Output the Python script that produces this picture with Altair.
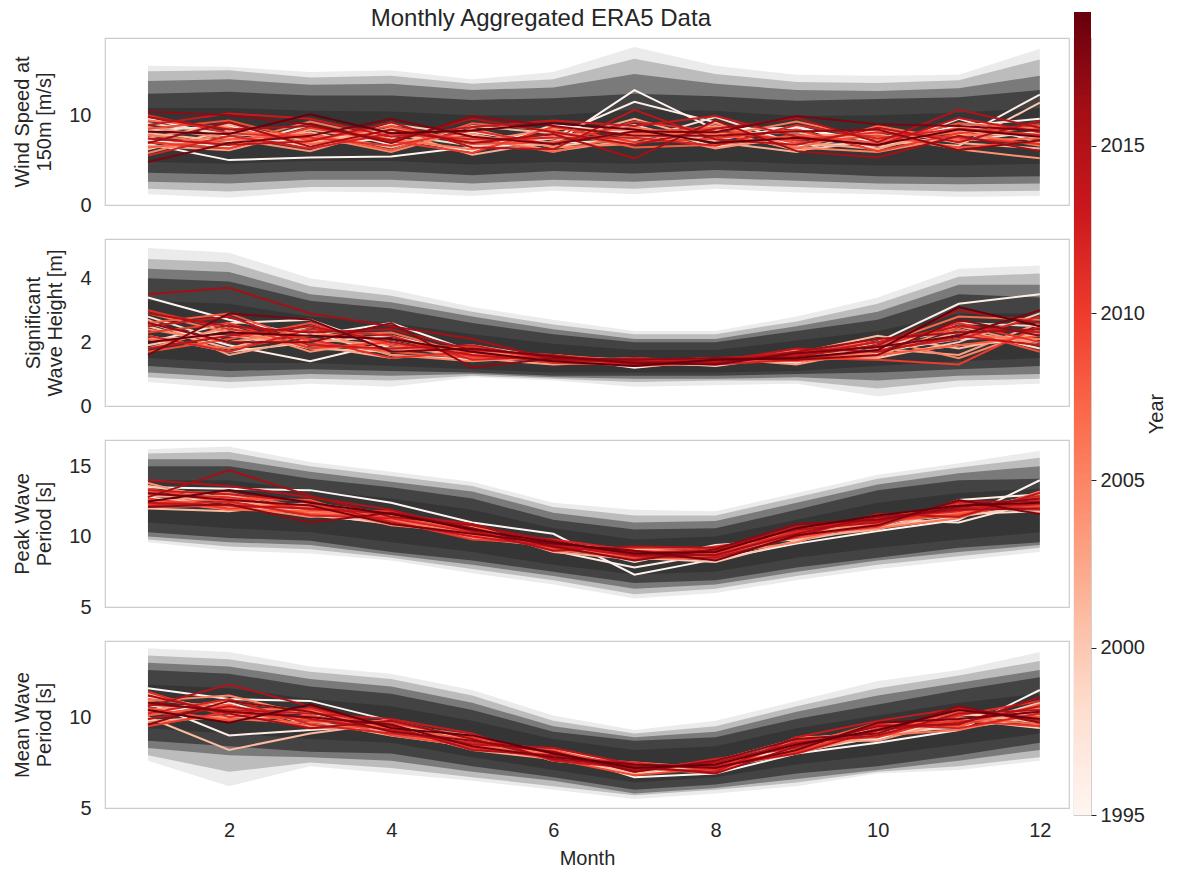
import altair as alt
import pandas as pd
import numpy as np

months = list(range(1, 13))
years = list(range(1995, 2020))

# ---------------- percentile bands (outermost first) ----------------
# Wind speed at 150 m [m/s]
wind_b1_hi = [15.5, 15.4, 14.8, 15.0, 14.0, 14.8, 17.6, 15.5, 14.5, 14.4, 14.5, 17.4]
wind_b1_lo = [1.2, 0.8, 1.5, 1.4, 1.0, 1.6, 1.2, 1.8, 1.4, 1.2, 0.9, 1.0]
wind_b2_hi = [14.9, 15.0, 14.2, 14.4, 13.5, 14.0, 16.3, 14.6, 13.7, 13.6, 13.9, 16.2]
wind_b2_lo = [1.8, 1.5, 2.0, 2.0, 1.6, 2.1, 1.8, 2.3, 2.0, 1.7, 1.5, 1.6]
wind_b3_hi = [13.8, 14.0, 13.4, 13.5, 12.8, 13.1, 14.6, 13.5, 12.8, 12.7, 13.0, 14.4]
wind_b3_lo = [2.6, 2.4, 2.8, 2.8, 2.4, 2.8, 2.6, 3.0, 2.7, 2.4, 2.3, 2.4]
wind_b4_hi = [12.4, 12.6, 12.2, 12.2, 11.7, 11.9, 12.4, 12.1, 11.6, 11.8, 12.0, 12.8]
wind_b4_lo = [3.6, 3.4, 3.8, 3.8, 3.3, 3.8, 3.5, 3.9, 3.6, 3.2, 3.1, 3.2]
wind_b5_hi = [10.8, 10.8, 10.5, 10.4, 10.0, 10.0, 10.6, 10.5, 9.9, 10.0, 10.3, 10.8]
wind_b5_lo = [4.8, 4.6, 4.9, 4.9, 4.5, 4.8, 4.6, 4.9, 4.6, 4.4, 4.4, 4.6]

# Significant wave height [m]
hs_b1_hi = [4.95, 4.8, 4.0, 3.65, 3.1, 2.7, 2.35, 2.35, 2.8, 3.4, 4.3, 4.4]
hs_b1_lo = [0.75, 0.55, 0.7, 0.6, 0.9, 0.8, 0.6, 0.65, 0.7, 0.3, 0.6, 0.7]
hs_b2_hi = [4.6, 4.5, 3.75, 3.45, 2.95, 2.55, 2.25, 2.25, 2.65, 3.2, 4.05, 4.15]
hs_b2_lo = [0.9, 0.75, 0.85, 0.8, 0.95, 0.85, 0.75, 0.8, 0.8, 0.55, 0.8, 0.85]
hs_b3_hi = [4.3, 4.2, 3.5, 3.25, 2.8, 2.4, 2.1, 2.1, 2.5, 2.95, 3.8, 3.8]
hs_b3_lo = [1.05, 0.9, 1.0, 0.95, 1.0, 0.9, 0.85, 0.85, 0.9, 0.8, 0.95, 1.0]
hs_b4_hi = [4.0, 3.9, 3.3, 3.05, 2.6, 2.25, 2.0, 2.0, 2.35, 2.7, 3.5, 3.4]
hs_b4_lo = [1.25, 1.1, 1.15, 1.1, 1.05, 0.95, 0.95, 0.95, 1.0, 1.05, 1.15, 1.25]
hs_b5_hi = [3.3, 3.2, 2.8, 2.6, 2.25, 1.95, 1.75, 1.75, 2.05, 2.35, 2.9, 2.9]
hs_b5_lo = [1.5, 1.35, 1.35, 1.25, 1.15, 1.05, 1.05, 1.05, 1.1, 1.25, 1.4, 1.5]

# Peak wave period [s]
tp_b1_hi = [16.2, 16.4, 15.3, 14.6, 13.9, 12.4, 11.9, 11.8, 13.1, 14.4, 15.2, 16.1]
tp_b1_lo = [9.6, 9.0, 8.8, 8.3, 7.4, 6.6, 5.6, 6.0, 6.9, 7.7, 8.3, 8.9]
tp_b2_hi = [15.9, 16.0, 15.0, 14.3, 13.6, 12.1, 11.5, 11.5, 12.8, 14.1, 14.9, 15.6]
tp_b2_lo = [9.8, 9.3, 9.1, 8.5, 7.7, 6.9, 5.9, 6.3, 7.2, 8.0, 8.6, 9.2]
tp_b3_hi = [15.5, 15.5, 14.6, 13.9, 13.2, 11.7, 11.0, 11.1, 12.4, 13.7, 14.5, 15.0]
tp_b3_lo = [10.0, 9.6, 9.4, 8.7, 8.0, 7.2, 6.3, 6.6, 7.5, 8.3, 8.9, 9.4]
tp_b4_hi = [15.0, 15.0, 14.1, 13.5, 12.7, 11.2, 10.5, 10.6, 11.9, 13.3, 14.0, 14.1]
tp_b4_lo = [10.3, 9.9, 9.7, 8.9, 8.3, 7.5, 6.7, 6.9, 7.8, 8.5, 9.2, 9.6]
tp_b5_hi = [14.0, 14.0, 13.3, 12.7, 11.9, 10.6, 9.8, 10.0, 11.2, 12.4, 13.1, 13.4]
tp_b5_lo = [11.0, 10.6, 10.3, 9.6, 8.9, 8.0, 7.3, 7.5, 8.5, 9.2, 9.8, 10.3]

# Mean wave period [s]
tm_b1_hi = [13.8, 13.6, 12.8, 12.4, 11.5, 10.1, 9.3, 9.8, 10.9, 12.0, 12.6, 13.6]
tm_b1_lo = [7.6, 6.2, 7.3, 6.9, 6.5, 6.0, 5.5, 5.8, 6.2, 6.9, 7.1, 7.6]
tm_b2_hi = [13.4, 13.2, 12.5, 12.1, 11.2, 9.8, 9.1, 9.5, 10.6, 11.6, 12.3, 13.1]
tm_b2_lo = [7.9, 7.0, 7.5, 7.2, 6.7, 6.2, 5.7, 6.0, 6.4, 7.0, 7.3, 7.8]
tm_b3_hi = [13.0, 12.8, 12.1, 11.7, 10.8, 9.5, 8.9, 9.2, 10.3, 11.2, 11.9, 12.6]
tm_b3_lo = [8.3, 7.9, 7.8, 7.6, 7.0, 6.5, 5.8, 6.1, 6.6, 7.1, 7.6, 8.2]
tm_b4_hi = [12.6, 12.4, 11.7, 11.3, 10.4, 9.2, 8.7, 8.9, 9.9, 10.7, 11.5, 12.2]
tm_b4_lo = [8.7, 8.4, 8.1, 8.0, 7.3, 6.7, 6.0, 6.3, 6.9, 7.3, 7.9, 8.6]
tm_b5_hi = [11.8, 11.6, 11.0, 10.6, 9.8, 8.8, 8.2, 8.4, 9.4, 10.1, 10.8, 11.3]
tm_b5_lo = [9.4, 9.1, 8.8, 8.6, 7.8, 7.1, 6.4, 6.7, 7.4, 7.9, 8.5, 9.1]

band_opacity = [0.08, 0.2, 0.35, 0.45, 0.2]

# ---------------- yearly monthly means (1995 .. 2019) ----------------
wind_years = [
    [6.8, 5.0, 5.3, 5.4, 6.5, 6.8, 12.8, 8.4, 8.6, 7.0, 8.8, 9.6],
    [9.6, 7.6, 6.9, 8.5, 7.2, 7.6, 11.5, 9.2, 6.6, 6.9, 7.4, 12.3],
    [8.3, 8.8, 6.6, 7.5, 6.0, 8.9, 8.0, 7.2, 8.8, 6.2, 9.6, 6.9],
    [7.2, 6.5, 8.9, 6.7, 8.1, 6.9, 7.2, 9.8, 6.8, 8.3, 7.1, 8.2],
    [9.1, 7.9, 7.4, 7.9, 6.6, 7.4, 8.9, 6.5, 7.4, 7.6, 8.3, 7.5],
    [6.2, 8.3, 6.4, 9.0, 7.8, 6.5, 7.6, 8.3, 6.1, 7.1, 6.6, 11.4],
    [8.0, 7.1, 8.1, 6.4, 8.8, 8.0, 6.9, 7.9, 8.1, 6.5, 7.8, 7.9],
    [7.5, 9.0, 7.0, 8.2, 5.6, 7.1, 9.6, 7.0, 5.9, 8.5, 6.9, 6.3],
    [6.6, 6.1, 8.4, 7.0, 7.9, 6.0, 7.3, 8.8, 7.0, 6.2, 8.7, 7.7],
    [8.7, 7.4, 6.0, 8.6, 7.0, 8.5, 8.3, 6.3, 7.7, 7.9, 6.2, 5.2],
    [5.8, 8.1, 7.7, 5.9, 8.5, 6.4, 6.8, 9.1, 6.4, 5.9, 7.6, 8.8],
    [7.8, 6.8, 9.3, 7.3, 6.2, 7.7, 8.6, 7.6, 9.3, 7.3, 8.1, 6.6],
    [9.4, 8.6, 6.8, 7.8, 7.5, 5.9, 7.9, 8.0, 6.3, 8.8, 7.2, 7.4],
    [6.4, 7.3, 7.9, 6.1, 9.1, 8.3, 6.4, 6.7, 7.8, 6.9, 9.1, 8.4],
    [8.5, 9.4, 7.2, 8.8, 6.8, 7.0, 8.1, 8.6, 6.9, 7.7, 6.4, 7.1],
    [7.0, 6.3, 8.6, 7.1, 5.8, 8.7, 7.0, 7.4, 8.4, 6.0, 8.0, 9.0],
    [10.0, 8.0, 7.5, 6.6, 8.3, 6.7, 9.3, 8.2, 7.2, 8.1, 7.5, 6.8],
    [5.5, 7.7, 6.3, 8.0, 7.3, 7.5, 7.5, 6.6, 8.9, 7.4, 8.5, 7.8],
    [8.9, 10.2, 9.6, 7.6, 8.7, 9.4, 8.8, 9.9, 7.6, 6.6, 9.7, 8.1],
    [7.4, 6.7, 7.1, 9.2, 6.4, 6.2, 10.6, 7.3, 6.7, 8.6, 7.0, 9.4],
    [9.8, 8.4, 8.8, 7.2, 9.6, 8.1, 6.7, 8.5, 9.7, 7.0, 10.6, 8.6],
    [6.9, 9.2, 6.5, 8.4, 6.9, 7.9, 5.2, 9.4, 6.0, 5.3, 7.7, 6.0],
    [10.4, 10.0, 9.0, 6.9, 9.9, 8.8, 7.7, 7.7, 8.2, 8.4, 6.1, 7.2],
    [4.8, 6.9, 7.7, 9.6, 7.6, 6.8, 8.2, 8.1, 9.9, 9.0, 8.8, 8.3],
    [8.2, 7.9, 10.1, 8.0, 8.3, 9.1, 8.4, 6.9, 7.5, 6.7, 8.4, 7.6],
]

hs_years = [
    [3.4, 2.7, 2.2, 2.6, 1.7, 1.4, 1.3, 1.3, 1.5, 1.7, 2.1, 2.2],
    [2.6, 1.9, 1.4, 2.0, 1.5, 1.55, 1.2, 1.45, 1.35, 2.0, 3.2, 3.5],
    [2.0, 2.6, 2.7, 1.8, 1.8, 1.35, 1.45, 1.3, 1.7, 1.6, 1.9, 2.1],
    [2.8, 2.0, 2.3, 1.6, 1.45, 1.6, 1.3, 1.5, 1.4, 1.9, 2.4, 1.8],
    [2.2, 1.7, 2.0, 2.2, 1.6, 1.45, 1.4, 1.25, 1.6, 1.75, 2.6, 2.5],
    [1.9, 2.4, 1.8, 1.7, 1.9, 1.5, 1.25, 1.4, 1.45, 1.5, 2.0, 2.9],
    [2.5, 1.8, 2.5, 2.0, 1.55, 1.4, 1.5, 1.35, 1.65, 2.2, 1.8, 2.3],
    [2.1, 2.2, 1.9, 1.5, 1.7, 1.6, 1.35, 1.45, 1.5, 1.65, 2.3, 2.0],
    [2.7, 1.6, 2.1, 1.9, 1.5, 1.3, 1.4, 1.5, 1.3, 1.8, 1.6, 2.6],
    [1.8, 2.5, 1.7, 2.1, 1.65, 1.5, 1.3, 1.35, 1.75, 1.55, 2.5, 1.9],
    [2.4, 2.0, 2.4, 1.6, 1.4, 1.55, 1.45, 1.3, 1.55, 2.1, 1.5, 2.4],
    [2.9, 2.3, 1.9, 1.8, 1.75, 1.35, 1.3, 1.45, 1.45, 1.7, 2.2, 2.1],
    [2.1, 1.8, 2.2, 2.3, 1.6, 1.45, 1.35, 1.4, 1.6, 1.9, 2.8, 2.7],
    [2.6, 2.9, 2.0, 1.7, 1.5, 1.6, 1.4, 1.5, 1.4, 1.6, 1.9, 2.2],
    [1.7, 2.1, 2.6, 1.9, 1.85, 1.4, 1.25, 1.35, 1.65, 2.0, 2.4, 1.7],
    [2.3, 2.6, 1.8, 2.0, 1.55, 1.5, 1.45, 1.4, 1.5, 1.45, 1.3, 2.5],
    [3.0, 2.4, 2.1, 1.5, 1.7, 1.35, 1.3, 1.45, 1.7, 1.85, 2.6, 2.0],
    [2.2, 1.7, 2.4, 2.2, 1.45, 1.55, 1.4, 1.3, 1.45, 1.75, 2.1, 2.8],
    [2.5, 2.8, 1.9, 1.8, 1.9, 1.45, 1.35, 1.5, 1.6, 2.0, 2.5, 2.3],
    [1.8, 2.2, 2.5, 2.0, 1.6, 1.4, 1.5, 1.4, 1.8, 1.7, 2.2, 1.9],
    [2.9, 2.5, 2.3, 2.4, 1.75, 1.6, 1.3, 1.45, 1.55, 1.9, 3.0, 2.6],
    [3.5, 3.7, 2.9, 2.5, 2.1, 1.45, 1.4, 1.35, 1.7, 2.1, 2.3, 2.4],
    [2.6, 2.0, 2.0, 2.6, 1.2, 1.5, 1.45, 1.5, 1.45, 1.6, 2.7, 2.2],
    [1.6, 2.9, 2.7, 1.7, 1.8, 1.55, 1.35, 1.3, 1.65, 1.85, 2.2, 3.0],
    [2.0, 2.3, 2.2, 2.1, 1.7, 1.4, 1.25, 1.45, 1.5, 1.75, 3.1, 2.5],
]

tp_years = [
    [13.5, 13.4, 13.3, 12.4, 11.0, 10.2, 7.3, 8.4, 9.5, 10.4, 11.2, 14.0],
    [12.8, 12.1, 12.0, 11.5, 10.5, 9.0, 7.8, 8.8, 10.2, 10.6, 12.6, 13.0],
    [12.2, 12.9, 11.5, 11.0, 10.0, 9.6, 8.2, 9.4, 9.8, 11.2, 11.0, 12.5],
    [13.1, 12.5, 12.2, 11.4, 10.6, 9.2, 8.9, 8.6, 10.4, 10.9, 11.6, 11.8],
    [12.5, 12.0, 11.8, 11.2, 10.2, 9.4, 8.7, 9.1, 10.0, 11.4, 11.9, 12.9],
    [13.6, 12.7, 11.6, 10.9, 10.4, 9.1, 8.5, 8.2, 9.7, 10.7, 11.4, 12.3],
    [12.0, 11.8, 12.4, 11.6, 10.1, 9.5, 9.1, 8.9, 10.3, 11.0, 11.8, 12.7],
    [12.9, 12.6, 11.9, 11.1, 10.7, 8.9, 8.4, 9.3, 9.9, 10.5, 12.1, 12.0],
    [12.4, 13.0, 11.7, 11.3, 9.9, 9.3, 8.8, 8.5, 10.1, 11.1, 11.5, 12.6],
    [13.8, 12.3, 12.1, 10.8, 10.3, 9.7, 8.3, 9.0, 10.5, 10.8, 12.3, 11.7],
    [12.1, 12.2, 11.4, 11.7, 10.5, 9.2, 9.0, 8.7, 9.6, 11.3, 11.7, 12.4],
    [13.2, 13.1, 12.0, 11.2, 10.1, 9.4, 8.6, 9.2, 10.2, 10.6, 11.3, 13.2],
    [12.6, 11.9, 11.8, 11.5, 10.8, 9.0, 8.8, 8.9, 10.0, 11.5, 12.0, 12.2],
    [12.3, 12.7, 12.6, 10.9, 10.2, 9.6, 8.5, 8.4, 10.6, 11.0, 11.6, 12.8],
    [13.4, 12.4, 11.6, 11.4, 10.4, 9.1, 9.2, 9.1, 9.9, 10.9, 12.2, 12.1],
    [12.7, 12.0, 12.3, 11.1, 9.8, 9.5, 8.7, 8.8, 10.3, 11.2, 11.5, 12.6],
    [13.0, 12.8, 11.9, 11.8, 10.6, 9.2, 8.4, 9.3, 10.1, 10.7, 12.4, 11.9],
    [12.2, 12.5, 11.5, 11.3, 10.3, 9.8, 9.0, 8.6, 10.4, 11.3, 11.8, 12.9],
    [13.3, 13.0, 12.5, 11.0, 10.0, 9.3, 8.9, 9.0, 10.7, 11.1, 12.0, 12.3],
    [12.4, 12.2, 12.0, 11.6, 10.9, 9.4, 8.6, 8.5, 10.0, 11.6, 11.4, 13.1],
    [14.0, 13.6, 12.8, 11.9, 10.4, 9.0, 9.3, 9.2, 10.5, 11.0, 12.5, 12.5],
    [12.8, 14.7, 12.9, 11.4, 10.8, 9.7, 8.7, 8.7, 10.2, 11.4, 11.9, 12.0],
    [12.1, 12.3, 11.0, 11.7, 10.6, 9.3, 8.3, 9.1, 10.9, 11.2, 12.1, 12.7],
    [13.1, 12.6, 12.2, 10.9, 10.2, 9.5, 9.0, 8.3, 10.1, 10.8, 12.6, 11.6],
    [12.5, 13.3, 12.4, 11.6, 10.5, 9.6, 8.8, 8.9, 10.6, 11.5, 12.2, 12.4],
]

tm_years = [
    [11.6, 11.0, 10.9, 9.8, 8.6, 8.1, 6.7, 6.9, 8.0, 8.6, 9.3, 11.5],
    [10.8, 9.0, 9.3, 9.6, 8.8, 7.7, 6.9, 7.2, 8.4, 8.8, 10.1, 10.4],
    [10.2, 10.8, 9.6, 9.2, 8.3, 8.0, 7.3, 7.0, 8.6, 9.3, 9.4, 10.0],
    [11.1, 10.4, 10.2, 9.5, 8.5, 7.8, 7.0, 7.5, 8.1, 8.9, 9.8, 10.6],
    [9.8, 10.0, 10.0, 9.3, 8.9, 7.6, 7.2, 7.1, 8.5, 9.4, 9.9, 9.4],
    [10.6, 10.6, 9.8, 9.0, 8.4, 8.2, 7.4, 7.3, 8.2, 9.0, 9.5, 10.8],
    [10.0, 8.2, 9.1, 9.7, 8.7, 7.9, 6.9, 7.6, 8.8, 9.2, 10.2, 9.7],
    [11.3, 10.2, 9.9, 9.4, 8.2, 7.7, 7.3, 7.0, 8.3, 9.6, 9.6, 10.3],
    [10.4, 10.9, 10.3, 9.1, 8.6, 8.1, 7.1, 7.4, 8.7, 8.7, 9.9, 10.1],
    [9.7, 10.1, 9.5, 9.6, 9.0, 7.8, 7.5, 7.2, 8.0, 9.1, 10.4, 9.9],
    [10.9, 11.2, 10.1, 9.2, 8.3, 8.0, 7.0, 7.5, 8.5, 9.5, 9.7, 10.5],
    [10.3, 9.9, 9.7, 9.8, 8.8, 7.6, 7.2, 6.9, 8.9, 9.0, 9.3, 10.2],
    [11.0, 10.5, 10.4, 9.3, 8.5, 7.9, 7.4, 7.3, 8.2, 9.3, 10.0, 9.6],
    [10.1, 10.7, 9.4, 9.5, 8.7, 8.2, 7.1, 7.6, 8.4, 9.7, 9.5, 10.7],
    [10.5, 9.8, 10.1, 9.0, 8.4, 7.7, 6.8, 7.2, 8.6, 9.2, 10.3, 10.0],
    [9.5, 10.3, 9.8, 9.7, 8.9, 8.0, 7.3, 7.4, 8.1, 9.4, 9.8, 9.5],
    [11.4, 10.0, 10.5, 9.4, 8.3, 7.8, 7.5, 7.1, 8.7, 8.9, 10.1, 10.9],
    [10.2, 11.0, 9.6, 9.1, 8.6, 8.1, 7.0, 7.7, 8.3, 9.6, 9.4, 10.2],
    [10.7, 10.4, 10.2, 9.9, 9.1, 7.6, 7.2, 7.0, 8.9, 9.8, 10.5, 9.8],
    [9.9, 10.6, 9.9, 9.3, 8.5, 8.3, 7.4, 7.3, 8.0, 9.3, 9.7, 10.6],
    [10.6, 11.8, 10.6, 9.5, 8.2, 7.9, 7.1, 7.5, 8.6, 9.0, 10.2, 10.4],
    [11.2, 10.2, 9.4, 9.8, 8.8, 7.7, 7.3, 6.9, 8.4, 9.5, 9.6, 11.1],
    [9.6, 10.9, 10.3, 9.2, 8.7, 8.1, 7.0, 7.6, 8.8, 9.1, 10.6, 9.7],
    [10.8, 10.3, 10.0, 9.6, 8.4, 7.8, 7.4, 7.2, 8.2, 9.7, 9.9, 10.3],
    [10.4, 9.7, 10.7, 9.4, 9.0, 8.0, 7.2, 7.4, 8.5, 9.3, 10.4, 9.9],
]

x_ticks = [2, 4, 6, 8, 10, 12]
year_ticks = [1995, 2000, 2005, 2010, 2015]
# matplotlib "Reds" colour map stops, spread over 1995..2019
reds_stops = [1995, 1998, 2001, 2004, 2007, 2010, 2013, 2016, 2019]
reds_colors = ["#fff5f0", "#fee0d2", "#fcbba1", "#fc9272", "#fb6a4a",
               "#ef3b2c", "#cb181d", "#a50f15", "#67000d"]

FONT = "Liberation Sans"
TXT = "#262626"
PANEL_W = 964
PANEL_H = 167

x_scale = alt.Scale(domain=[0.47, 12.36], nice=False, zero=False)
year_color = alt.Scale(domain=reds_stops, range=reds_colors, interpolate="rgb")


def band_frame(bands):
    rows = []
    for i, (lo, hi) in enumerate(bands):
        for m, l, h in zip(months, lo, hi):
            rows.append({"month": m, "band": i, "lo": l, "hi": h, "op": band_opacity[i]})
    return pd.DataFrame(rows)


def line_frame(series):
    rows = []
    for y, vals in zip(years, series):
        for m, v in zip(months, vals):
            rows.append({"month": m, "year": y, "value": v})
    return pd.DataFrame(rows)


def panel(bands, series, ytitle, ydomain, yticks, bottom):
    yscale = alt.Scale(domain=ydomain, nice=False, zero=False)
    yaxis = alt.Axis(values=yticks, title=ytitle, grid=False, domain=False, ticks=False,
                     labelFontSize=20, labelColor=TXT, labelFont=FONT, labelPadding=14,
                     titleFontSize=20, titleColor=TXT, titleFont=FONT, titleFontWeight="normal",
                     titlePadding=14, titleLineHeight=22)
    if bottom:
        xaxis = alt.Axis(values=x_ticks, format="d", title="Month", grid=False, domain=False,
                         ticks=False, labelFontSize=20, labelColor=TXT, labelFont=FONT,
                         labelPadding=12, titleFontSize=20, titleColor=TXT, titleFont=FONT,
                         titleFontWeight="normal", titlePadding=8)
    else:
        xaxis = None
    area = alt.Chart(band_frame(bands)).mark_area(color="black", clip=True).encode(
        x=alt.X("month:Q", scale=x_scale, axis=xaxis),
        y=alt.Y("lo:Q", scale=yscale, axis=yaxis),
        y2="hi:Q",
        detail="band:N",
        opacity=alt.Opacity("op:Q", scale=None, legend=None),
    )
    lines = alt.Chart(line_frame(series)).mark_line(strokeWidth=2, clip=True).encode(
        x=alt.X("month:Q", scale=x_scale),
        y=alt.Y("value:Q", scale=yscale),
        color=alt.Color("year:Q", scale=year_color, legend=None),
        detail="year:N",
    )
    return alt.layer(area, lines).properties(width=PANEL_W, height=PANEL_H)


p1 = panel([(wind_b1_lo, wind_b1_hi), (wind_b2_lo, wind_b2_hi), (wind_b3_lo, wind_b3_hi),
            (wind_b4_lo, wind_b4_hi), (wind_b5_lo, wind_b5_hi)],
           wind_years, ["Wind Speed at", "150m [m/s]"], [0, 18.6], [0, 10], False)
p2 = panel([(hs_b1_lo, hs_b1_hi), (hs_b2_lo, hs_b2_hi), (hs_b3_lo, hs_b3_hi),
            (hs_b4_lo, hs_b4_hi), (hs_b5_lo, hs_b5_hi)],
           hs_years, ["Significant", "Wave Height [m]"], [0, 5.23], [0, 2, 4], False)
p3 = panel([(tp_b1_lo, tp_b1_hi), (tp_b2_lo, tp_b2_hi), (tp_b3_lo, tp_b3_hi),
            (tp_b4_lo, tp_b4_hi), (tp_b5_lo, tp_b5_hi)],
           tp_years, ["Peak Wave", "Period [s]"], [5, 16.86], [5, 10, 15], False)
p4 = panel([(tm_b1_lo, tm_b1_hi), (tm_b2_lo, tm_b2_hi), (tm_b3_lo, tm_b3_hi),
            (tm_b4_lo, tm_b4_hi), (tm_b5_lo, tm_b5_hi)],
           tm_years, ["Mean Wave", "Period [s]"], [5, 14.2], [5, 10], True)

left = alt.vconcat(p1, p2, p3, p4, spacing=34, bounds="flush").properties(
    title=alt.TitleParams("Monthly Aggregated ERA5 Data", fontSize=24, font=FONT, color=TXT,
                          fontWeight="normal", anchor="middle", offset=6)
)

# colour bar
CB_H = 777
steps = np.round(np.arange(1995.0, 2019.0, 0.1), 2)
cbar_df = pd.DataFrame({"y0": steps, "y1": np.round(np.minimum(steps + 0.16, 2019.0), 2),
                        "c": steps + 0.05})
cbar_scale = alt.Scale(domain=[1995, 2019], range=[CB_H, -26], nice=False, zero=False)
cbar = alt.Chart(cbar_df).mark_rect(strokeWidth=0).encode(
    y=alt.Y("y0:Q", scale=cbar_scale,
            axis=alt.Axis(orient="right", values=year_ticks, format="d", title="Year",
                          grid=False, domain=False, ticks=True, tickSize=5, tickColor=TXT,
                          labelFontSize=20, labelColor=TXT, labelFont=FONT, labelPadding=4,
                          titleFontSize=20, titleColor=TXT, titleFont=FONT,
                          titleFontWeight="normal", titleAngle=270, titlePadding=22)),
    y2="y1:Q",
    color=alt.Color("c:Q", scale=year_color, legend=None),
).properties(width=17, height=CB_H)

chart = alt.hconcat(left, cbar, spacing=3).configure_view(
    stroke="#cccccc", strokeWidth=1.2
).properties(padding={"left": 12, "top": 7, "right": 5, "bottom": 5})

chart.save("out.html", embed_options={"renderer": "svg", "actions": False})
